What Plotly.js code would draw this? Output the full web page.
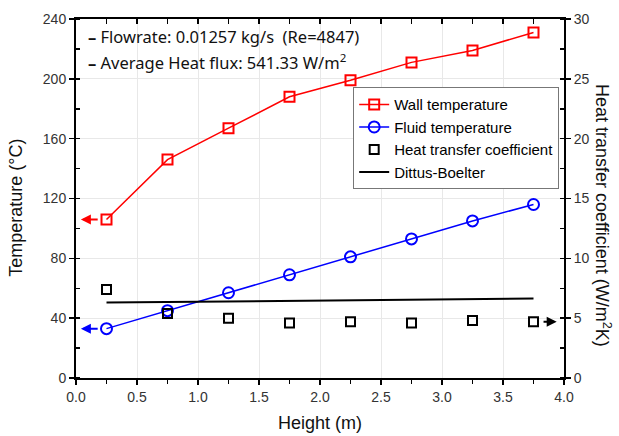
<!DOCTYPE html>
<html><head><meta charset="utf-8">
<script src="https://cdn.plot.ly/plotly-3.0.1.min.js"></script>
<style>body{margin:0;padding:0;background:#fff}#c{width:619px;height:436px}</style>
</head><body><div id="c"></div>
<script>
const height = [0.25, 0.75, 1.25, 1.75, 2.25, 2.75, 3.25, 3.75];
const wallTemp = [106, 146, 167, 188, 199, 211, 219, 231];
const fluidTemp = [33, 45, 57, 69, 81, 93, 105, 116];
const htc = [7.4, 5.4, 5.0, 4.6, 4.7, 4.6, 4.8, 4.7];
const dittus = [6.3, 6.35, 6.4, 6.45, 6.5, 6.55, 6.6, 6.65];
const xTicks = [0, 0.5, 1, 1.5, 2, 2.5, 3, 3.5, 4];
const xTickText = ['0.0','0.5','1.0','1.5','2.0','2.5','3.0','3.5','4.0'];

const tickFont = {family:'Liberation Sans, Arial, sans-serif', size:14, color:'#333'};
const titleFont = {family:'Liberation Sans, Arial, sans-serif', size:18, color:'#111'};
const traces = [
 {x:height, y:wallTemp, name:'Wall temperature', mode:'lines+markers', type:'scatter',
  line:{color:'#ff0000', width:1.5}, marker:{symbol:'square-open', size:10, color:'#ff0000', line:{width:2}}},
 {x:height, y:fluidTemp, name:'Fluid temperature', mode:'lines+markers', type:'scatter',
  line:{color:'#0000ff', width:1.5}, marker:{symbol:'circle-open', size:11, color:'#0000ff', line:{width:2}}},
 {x:height, y:htc, name:'Heat transfer coefficient', mode:'markers', type:'scatter', yaxis:'y2',
  marker:{symbol:'square-open', size:9, color:'#000', line:{width:2}}},
 {x:height, y:dittus, name:'Dittus-Boelter', mode:'lines', type:'scatter', yaxis:'y2',
  line:{color:'#000', width:2}},
 {x:[], y:[], xaxis:'x2', showlegend:false, hoverinfo:'skip'}
];

const layout = {
 width:619, height:436, margin:{l:76, r:55, t:19, b:58},
 paper_bgcolor:'#fff', plot_bgcolor:'#fff', showlegend:true,
 xaxis:{range:[0,4], tickvals:xTicks, ticktext:xTickText, showgrid:true, gridcolor:'#e8e8e8',
  showline:true, linecolor:'#000', linewidth:2, ticks:'outside', ticklen:5, tickwidth:1.5, tickcolor:'#000',
  minor:{dtick:0.25, tick0:0, ticks:'outside', ticklen:4, tickcolor:'#000', showgrid:false},
  zeroline:false, tickfont:tickFont,
  title:{text:'Height (m)', font:titleFont, standoff:13}},
 xaxis2:{overlaying:'x', side:'top', range:[0,4], showline:true, linecolor:'#000', linewidth:2,
  tickvals:xTicks, showticklabels:false, ticks:'inside', ticklen:5, tickcolor:'#000', tickwidth:1.5,
  minor:{dtick:0.25, tick0:0, ticks:'inside', ticklen:5, tickcolor:'#000'}, showgrid:false, zeroline:false},
 yaxis:{range:[0,240], dtick:40, tick0:0, showgrid:true, gridcolor:'#e8e8e8',
  showline:true, linecolor:'#000', linewidth:2, ticks:'outside', ticklen:5, tickwidth:1.5, tickcolor:'#000',
  minor:{dtick:20, ticks:'inside', ticklen:4, tickcolor:'#000', showgrid:false},
  zeroline:false, tickfont:tickFont},
 yaxis2:{range:[0,30], dtick:5, tick0:0, overlaying:'y', side:'right', showgrid:false,
  showline:true, linecolor:'#000', linewidth:2, ticks:'outside', ticklen:5, tickwidth:1.5, tickcolor:'#000',
  minor:{dtick:2.5, ticks:'inside', ticklen:4, tickcolor:'#000'}, zeroline:false, tickfont:tickFont},
 legend:{x:0.568, y:0.81, xanchor:'left', yanchor:'top', bgcolor:'#fff', bordercolor:'#777', borderwidth:1,
  font:{family:'Liberation Sans, Arial, sans-serif', size:15, color:'#000'}, tracegroupgap:0, itemwidth:30},
 annotations:[
  {xref:'paper', yref:'paper', x:0.02, y:0.952, xanchor:'left', yanchor:'middle', showarrow:false,
   text:'<b>–</b> Flowrate: 0.01257 kg/s&nbsp;&nbsp;(Re=4847)', font:{family:'Noto Sans, sans-serif', size:16.5, color:'#111'}},
  {xref:'paper', yref:'paper', x:0.02, y:0.88, xanchor:'left', yanchor:'middle', showarrow:false,
   text:'<b>–</b> Average Heat flux: 541.33 W/m<sup>2</sup>', font:{family:'Noto Sans, sans-serif', size:16.5, color:'#111'}},
  {xref:'paper', yref:'paper', x:-0.123, y:0.474, xanchor:'center', yanchor:'middle', showarrow:false, textangle:-90,
   text:'Temperature (°C)', font:titleFont},
  {xref:'paper', yref:'paper', x:1.08, y:0.454, xanchor:'center', yanchor:'middle', showarrow:false, textangle:90,
   text:'Heat transfer coefficient (W/m<sup>2</sup>K)', font:titleFont},
  {x:0.04, y:wallTemp[0], ax:0.19, ay:wallTemp[0], axref:'x', ayref:'y', xref:'x', yref:'y', text:'', showarrow:true,
   arrowhead:2, arrowsize:1, arrowwidth:2, arrowcolor:'#ff0000'},
  {x:0.04, y:fluidTemp[0], ax:0.19, ay:fluidTemp[0], axref:'x', ayref:'y', xref:'x', yref:'y', text:'', showarrow:true,
   arrowhead:2, arrowsize:1, arrowwidth:2, arrowcolor:'#0000ff'},
  {x:3.94, y:htc[7], ax:3.82, ay:htc[7], axref:'x', ayref:'y2', xref:'x', yref:'y2', text:'', showarrow:true,
   arrowhead:2, arrowsize:1, arrowwidth:2, arrowcolor:'#000'}
 ]
};
Plotly.newPlot('c', traces, layout, {displayModeBar:false, staticPlot:true});
</script></body></html>
